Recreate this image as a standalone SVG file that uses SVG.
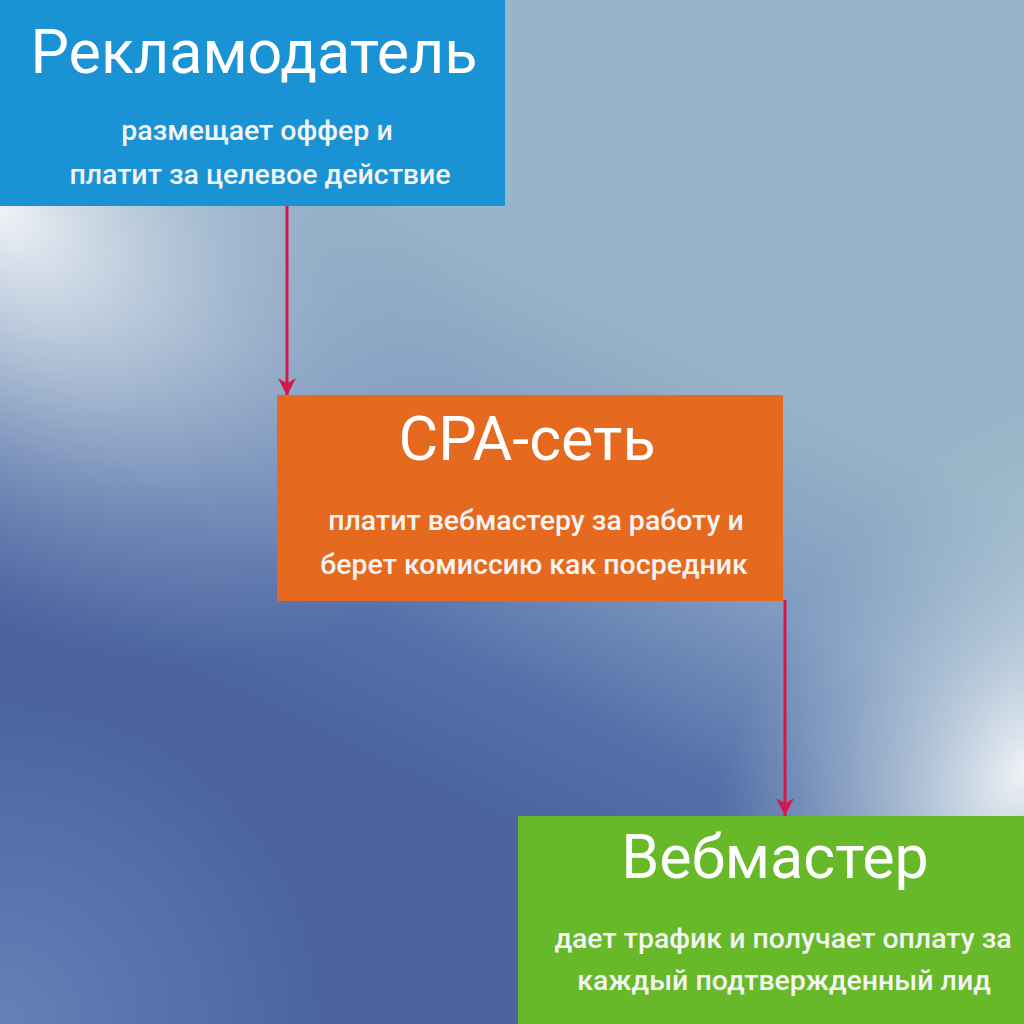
<svg xmlns="http://www.w3.org/2000/svg" width="1024" height="1024" viewBox="0 0 1024 1024">
<defs>
<linearGradient id="base" x1="600" y1="300" x2="380" y2="760" gradientUnits="userSpaceOnUse">
<stop offset="0" stop-color="#97b5c8"/>
<stop offset="0.4" stop-color="#7f9bc0"/>
<stop offset="0.75" stop-color="#5570a9"/>
<stop offset="1" stop-color="#4b64a0"/>
</linearGradient>
<radialGradient id="lightTL" cx="0" cy="0" r="1" gradientUnits="userSpaceOnUse" gradientTransform="translate(0 210) rotate(40) scale(560 360)">
<stop offset="0" stop-color="#eef2f6" stop-opacity="1"/>
<stop offset="0.35" stop-color="#c3d1df" stop-opacity="0.75"/>
<stop offset="0.7" stop-color="#9fb3cc" stop-opacity="0.35"/>
<stop offset="1" stop-color="#8fa6c4" stop-opacity="0"/>
</radialGradient>
<radialGradient id="lightR" cx="0" cy="0" r="1" gradientUnits="userSpaceOnUse" gradientTransform="translate(1024 770) rotate(-60) scale(420 280)">
<stop offset="0" stop-color="#eef2f6" stop-opacity="1"/>
<stop offset="0.4" stop-color="#c6d5e1" stop-opacity="0.65"/>
<stop offset="1" stop-color="#a5bdcf" stop-opacity="0"/>
</radialGradient>
<radialGradient id="lightBL" cx="0" cy="1024" r="320" gradientUnits="userSpaceOnUse">
<stop offset="0" stop-color="#6a88bd" stop-opacity="0.8"/>
<stop offset="1" stop-color="#6a88bd" stop-opacity="0"/>
</radialGradient>
<marker id="arr" viewBox="0 0 10 10" refX="10" refY="5" markerWidth="6" markerHeight="6.5" markerUnits="strokeWidth" orient="auto">
<path d="M0,0 L10,5 L0,10 L3,5 Z" fill="#d3194c"/>
</marker>
<style>
.title{font-family:Roboto,"Liberation Sans",sans-serif;font-size:61px;fill:#ffffff;text-anchor:middle}
.sub{font-family:Roboto,"Liberation Sans",sans-serif;font-size:28.5px;font-weight:500;fill:#f4f4f4;text-anchor:middle}
.conn{stroke:#d3194c;stroke-width:3;fill:none}
</style>
</defs>
<g id="background">
<rect x="0" y="0" width="1024" height="1024" fill="url(#base)"/>
<rect x="0" y="0" width="1024" height="1024" fill="url(#lightBL)"/>
<rect x="0" y="0" width="1024" height="1024" fill="url(#lightTL)"/>
<rect x="0" y="0" width="1024" height="1024" fill="url(#lightR)"/>
</g>
<g id="connectors">
<line class="conn" x1="287" y1="206" x2="287" y2="396" marker-end="url(#arr)"/>
<line class="conn" x1="785" y1="600" x2="785" y2="816" marker-end="url(#arr)"/>
</g>
<g id="node-advertiser">
<rect x="0" y="0" width="505" height="206" fill="#1a93d5"/>
<text class="title" x="254" y="73">Рекламодатель</text>
<text class="sub" x="257" y="140">размещает оффер и</text>
<text class="sub" x="260" y="184">платит за целевое действие</text>
</g>
<g id="node-cpa">
<rect x="277" y="395" width="506" height="206" fill="#e56a1f"/>
<text class="title" x="527" y="460">СРА-сеть</text>
<text class="sub" x="536" y="530">платит вебмастеру за работу и</text>
<text class="sub" x="534" y="574">берет комиссию как посредник</text>
</g>
<g id="node-webmaster">
<rect x="518" y="816" width="506" height="208" fill="#67b92a"/>
<text class="title" x="775" y="878">Вебмастер</text>
<text class="sub" x="783" y="948">дает трафик и получает оплату за</text>
<text class="sub" x="784" y="990">каждый подтвержденный лид</text>
</g>
</svg>
